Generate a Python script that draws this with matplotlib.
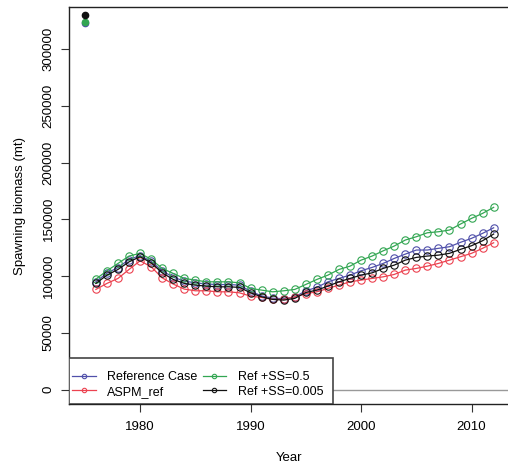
import numpy as np
import matplotlib
matplotlib.use("Agg")
import matplotlib.pyplot as plt
from matplotlib.patches import Rectangle

plt.rcParams['font.family'] = ['Liberation Sans', 'DejaVu Sans']

years = np.arange(1976, 2013)

ref_case = [95000, 102500, 107500, 114500, 118000, 113000, 104500, 99000, 95500, 94000,
            93000, 92500, 92500, 92000, 86500, 82500, 80500, 80000, 81500, 87000,
            90000, 94900, 97900, 100800, 104600, 107600, 111100, 115500, 119300, 122900,
            122900, 124400, 125800, 129700, 133200, 137600, 142500]
aspm_ref = [88200, 93500, 97900, 105800, 113400, 108100, 98400, 92900, 88500, 87000,
            87000, 86100, 86100, 85200, 82300, 81100, 79400, 79400, 81700, 84500,
            86100, 89100, 92000, 94900, 96400, 97900, 99300, 101400, 105200, 106700,
            108700, 111100, 114000, 117000, 120000, 124400, 129300]
ss_05 = [97300, 104600, 111100, 117600, 120000, 114700, 106700, 102300, 97900, 96400,
         94900, 94900, 94900, 94000, 89100, 87600, 86100, 87000, 88200, 92600,
         97000, 100800, 105800, 108700, 114000, 117600, 122200, 126400, 131700, 134600,
         138100, 139000, 140500, 145800, 150800, 155200, 160500]
ss_005 = [93500, 100800, 105800, 112500, 117000, 111700, 102800, 97000, 93500, 92000,
          91100, 90500, 90500, 90000, 85200, 81700, 79400, 78800, 80300, 85500,
          87600, 91100, 94900, 97900, 100800, 102800, 106700, 109600, 114000, 116400,
          117600, 118400, 120000, 123500, 126700, 131100, 137000]

# virgin biomass points (1975)
virgin_year = 1975
virgin_vals = [322500, 323800, 330200]   # Reference Case, Ref +SS=0.5, Ref +SS=0.005

labels = ['Reference Case', 'ASPM_ref', 'Ref +SS=0.5', 'Ref +SS=0.005']
colors = ['#5050aa', '#ec4250', '#32a652', '#111111']
series = [ref_case, aspm_ref, ss_05, ss_005]

W, H = 508, 467
fig = plt.figure(figsize=(W / 100, H / 100), dpi=100)
ax_l, ax_r, ax_t, ax_b = 68.5, 510, 7, 404.3
ax = fig.add_axes([ax_l / W, 1 - ax_b / H, (ax_r - ax_l) / W, (ax_b - ax_t) / H])

ax.axhline(0, color='#999999', lw=1.0, zorder=1)

for vals, c, lab in zip(series, colors, labels):
    ax.plot(years, vals, '-o', color=c, mfc='none', mec=c, ms=5.3, mew=0.8, lw=0.9,
            label=lab, zorder=3)

for v, c in zip(virgin_vals, [colors[0], colors[2], colors[3]]):
    ax.plot(virgin_year, v, 'o', color=c, ms=4.5, zorder=4)

ax.set_xlim(1973.52, 2013.48)
ax.set_ylim(-13000, 337000)
ax.set_xticks([1980, 1990, 2000, 2010])
ax.set_yticks(np.arange(0, 300001, 50000))
ax.set_yticklabels([str(v) for v in range(0, 300001, 50000)], rotation=90, va='center')
ax.tick_params(axis='both', labelsize=9.5, length=6, width=0.8, color='#333333')
ax.tick_params(axis='y', pad=4)
ax.tick_params(axis='x', pad=6)
for s in ax.spines.values():
    s.set_linewidth(1.0)
    s.set_color('#222222')

ax.set_xlabel('Year', fontsize=9.5, labelpad=14)
ax.set_ylabel('Spawning biomass (mt)', fontsize=9.5, labelpad=12)

# legend box drawn by hand (pixel extent)
box_w = (333 - ax_l) / (ax_r - ax_l)
box_h = (404.3 - 358) / (ax_b - ax_t)
ax.add_patch(Rectangle((0, 0), box_w, box_h, transform=ax.transAxes, facecolor='white',
                       edgecolor='#444444', lw=1.2, zorder=5))
leg = ax.legend(loc='center left', bbox_to_anchor=(0, box_h / 2 - 0.008), borderaxespad=0,
                ncol=2, fontsize=9, frameon=False, handlelength=1.9,
                handletextpad=0.9, columnspacing=0.4, labelspacing=0.2,
                borderpad=0.3, markerscale=0.6)
leg.set_zorder(6)

fig.savefig('out.png', dpi=100)
